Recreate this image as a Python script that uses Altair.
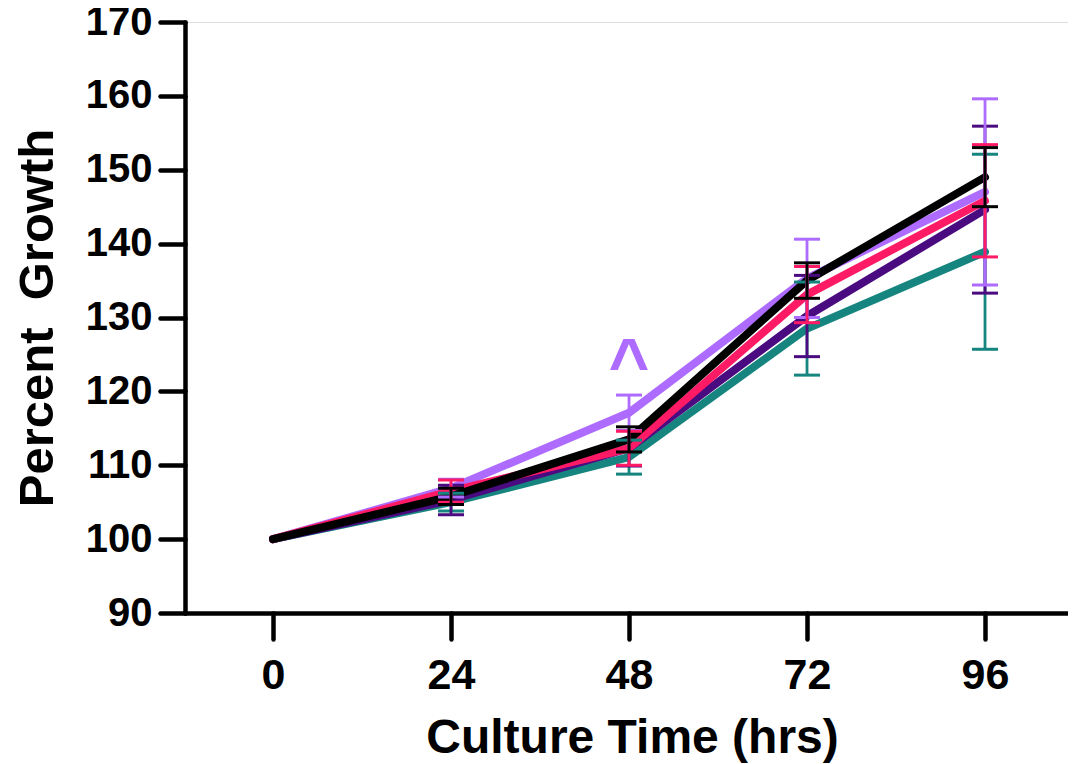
import altair as alt
import pandas as pd

# ---- data ----
times = [0, 24, 48, 72, 96]
series = ["teal", "dark purple", "lavender", "pink", "black"]
colors = ["#16857F", "#4A0A80", "#AE6BFF", "#FF1A66", "#000000"]

means = {
    "teal":        [100, 105.0, 111.1, 128.5, 138.9],
    "dark purple": [100, 105.3, 112.3, 130.2, 144.6],
    "lavender":    [100, 106.9, 117.1, 135.3, 147.0],
    "pink":        [100, 106.5, 112.3, 133.1, 145.8],
    "black":       [100, 105.8, 113.5, 135.0, 149.0],
}
errs = {
    "teal":        [0, 1.2, 2.3, 6.3, 13.2],
    "dark purple": [0, 2.0, 2.4, 5.5, 11.3],
    "lavender":    [0, 1.2, 2.4, 5.3, 12.6],
    "pink":        [0, 1.5, 2.3, 3.8, 7.6],
    "black":       [0, 1.1, 1.7, 2.4, 4.0],
}

annot_x = [48]
annot_y = [120.4]
annot_text = ["^"]

FONT = "Liberation Sans"

rows = []
for s in series:
    for t, m, e in zip(times, means[s], errs[s]):
        rows.append({"series": s, "time": t, "mean": m, "lo": m - e, "hi": m + e})
df = pd.DataFrame(rows)

xscale = alt.Scale(domain=[-11.87, 107.19], nice=False, zero=False)
yscale = alt.Scale(domain=[90, 170], nice=False, zero=False)

xaxis = alt.Axis(
    values=times, title="Culture Time (hrs)", grid=False,
    labelFont=FONT, labelFontSize=43, labelFontWeight="bold", labelColor="black",
    labelPadding=15, labelBaseline="top",
    titleFont=FONT, titleFontSize=48, titleFontWeight="bold", titleColor="black",
    titleX=447, titleY=139, titleBaseline="alphabetic", titleAlign="center",
    domainColor="black", domainWidth=4.5, domainCap="round",
    tickColor="black", tickWidth=4.5, tickSize=26, tickCap="round",
)
yaxis = alt.Axis(
    values=list(range(90, 171, 10)), title="Percent \u00a0Growth", grid=False,
    labelFont=FONT, labelFontSize=40, labelFontWeight="bold", labelColor="black",
    labelPadding=8,
    titleFont=FONT, titleFontSize=49, titleFontWeight="bold", titleColor="black",
    titleX=-148, titleY=295.5, titleAngle=270, titleAlign="center", titleBaseline="middle",
    domainColor="black", domainWidth=4.5, domainCap="round",
    tickColor="black", tickWidth=4.5, tickSize=25, tickCap="round",
)

layers = []
# lines
for s, c in zip(series, colors):
    d = df[df.series == s]
    layers.append(
        alt.Chart(d).mark_line(color=c, strokeWidth=8, strokeCap="round", strokeJoin="round").encode(
            x=alt.X("time:Q", scale=xscale, axis=xaxis),
            y=alt.Y("mean:Q", scale=yscale, axis=yaxis),
        )
    )
# error bars
for s, c in zip(series, colors):
    d = df[(df.series == s) & (df.time > 0)]
    layers.append(
        alt.Chart(d).mark_rule(color=c, strokeWidth=2.8).encode(
            x="time:Q", y="lo:Q", y2="hi:Q"
        )
    )
    for col in ["lo", "hi"]:
        layers.append(
            alt.Chart(d).mark_tick(color=c, orient="horizontal", size=26, thickness=3, opacity=1).encode(
                x="time:Q", y=alt.Y(f"{col}:Q")
            )
        )

ann = pd.DataFrame({"x": annot_x, "y": annot_y, "text": annot_text})
layers.append(
    alt.Chart(ann).mark_text(
        font=FONT, fontSize=70, fontWeight="bold", color="#AE6BFF",
        baseline="alphabetic", align="center"
    ).encode(x="x:Q", y="y:Q", text="text:N")
)

chart = alt.layer(*layers).properties(
    width=883, height=591,
    autosize=alt.AutoSizeParams(type="none"),
    padding={"left": 177, "top": 14, "right": 0, "bottom": 151},
).configure_view(stroke=None).configure(background="white")

chart.save("out.html", embed_options={"renderer": "svg", "actions": False})
